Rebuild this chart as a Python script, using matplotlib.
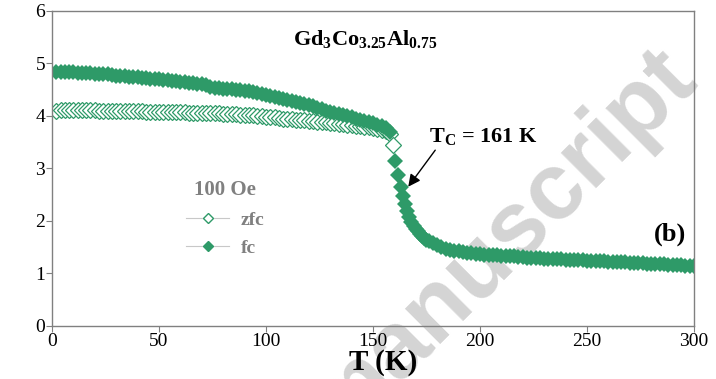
"""M(T) zfc / fc curves for Gd3Co3.25Al0.75 at 100 Oe."""

import matplotlib
matplotlib.use("Agg")
import matplotlib.pyplot as plt
import numpy as np
from matplotlib.lines import Line2D

plt.rcParams["font.family"] = ["Liberation Serif", "DejaVu Serif"]
plt.rcParams["mathtext.fontset"] = "custom"
plt.rcParams["mathtext.rm"] = "Liberation Serif"
plt.rcParams["mathtext.bf"] = "Liberation Serif:bold"

GREEN = "#2e9a68"
GRAY = "#808080"

# low temperature branch (both curves), every 2 K
t_low = np.arange(2, 160, 2)
fc_low = [
    4.84, 4.84, 4.84, 4.83, 4.83, 4.82, 4.82, 4.81, 4.81, 4.80,
    4.80, 4.79, 4.79, 4.78, 4.77, 4.77, 4.76, 4.75, 4.75, 4.74,
    4.73, 4.72, 4.71, 4.70, 4.70, 4.69, 4.68, 4.67, 4.66, 4.65,
    4.64, 4.63, 4.62, 4.61, 4.60, 4.58, 4.56, 4.54, 4.53, 4.52,
    4.52, 4.51, 4.50, 4.49, 4.48, 4.47, 4.45, 4.44, 4.42, 4.40,
    4.38, 4.36, 4.34, 4.32, 4.30, 4.28, 4.26, 4.24, 4.22, 4.20,
    4.18, 4.15, 4.13, 4.10, 4.08, 4.06, 4.04, 4.02, 3.99, 3.97,
    3.95, 3.93, 3.91, 3.88, 3.86, 3.83, 3.80, 3.76, 3.70,
]
zfc_low = [
    4.10, 4.11, 4.11, 4.11, 4.11, 4.11, 4.11, 4.11, 4.11, 4.11,
    4.10, 4.10, 4.10, 4.10, 4.10, 4.10, 4.09, 4.09, 4.09, 4.09,
    4.09, 4.08, 4.08, 4.08, 4.08, 4.08, 4.07, 4.07, 4.07, 4.07,
    4.07, 4.06, 4.06, 4.06, 4.06, 4.05, 4.05, 4.05, 4.05, 4.04,
    4.04, 4.03, 4.03, 4.02, 4.02, 4.01, 4.01, 4.00, 3.99, 3.98,
    3.97, 3.97, 3.96, 3.95, 3.95, 3.94, 3.93, 3.92, 3.92, 3.91,
    3.90, 3.89, 3.88, 3.88, 3.87, 3.86, 3.85, 3.84, 3.83, 3.82,
    3.81, 3.80, 3.79, 3.78, 3.76, 3.75, 3.73, 3.71, 3.66,
]
t_zfc_step = [159.5]
zfc_step = [3.45]

# transition and paramagnetic tail (curves coincide)
t_high = [160.5, 161.5, 163, 164, 165, 166, 167, 168, 169, 170, 171, 172,
          173, 174, 175, 176, 178, 180, 182, 184, 186, 188, 190, 192, 194,
          196, 198, 200] + list(range(202, 302, 2))
fc_high = [
    3.14, 2.87, 2.65, 2.47, 2.32, 2.18, 2.07, 1.98, 1.91, 1.85, 1.80, 1.75,
    1.71, 1.67, 1.64, 1.61, 1.57, 1.53, 1.50, 1.47, 1.45, 1.43, 1.42, 1.40,
    1.39, 1.38, 1.37, 1.36,
    1.35, 1.35, 1.34, 1.34, 1.33, 1.33, 1.32, 1.32, 1.31, 1.31,
    1.30, 1.30, 1.29, 1.29, 1.28, 1.28, 1.28, 1.27, 1.27, 1.26,
    1.26, 1.26, 1.25, 1.25, 1.24, 1.24, 1.24, 1.23, 1.23, 1.22,
    1.22, 1.21, 1.21, 1.21, 1.20, 1.20, 1.19, 1.19, 1.18, 1.18,
    1.18, 1.17, 1.17, 1.16, 1.16, 1.15, 1.15, 1.14, 1.14, 1.13,
]

x_ticks = [0, 50, 100, 150, 200, 250, 300]
y_ticks = [0, 1, 2, 3, 4, 5, 6]

fig = plt.figure(figsize=(7.16, 3.79), dpi=100)
ax = fig.add_axes([0.0726, 0.1406, 0.8966, 0.8304])
ax.patch.set_alpha(0)

# watermark behind the axes
fig.text(0.70, 0.36, "manuscript", family="Liberation Sans", weight="bold",
         fontsize=68, color="#d4d4d4", rotation=45, ha="center", va="center",
         zorder=-1)

mk = dict(marker="D", markersize=8, linestyle="none")
zfc_t = np.concatenate([t_low, t_zfc_step])
zfc_m = np.concatenate([zfc_low, zfc_step])
ax.plot(zfc_t, zfc_m, markerfacecolor="white", markeredgecolor=GREEN,
        markeredgewidth=0.9, **mk)
fc_t = np.concatenate([t_low, t_high])
fc_m = np.concatenate([fc_low, fc_high])
ax.plot(fc_t, fc_m, color=GREEN, markeredgewidth=0, **mk)

ax.set_xlim(0, 300)
ax.set_ylim(0, 6)
ax.set_xticks(x_ticks)
ax.set_yticks(y_ticks)
ax.tick_params(labelsize=14, color=GRAY, direction="out", length=4, width=0.8)
ax.tick_params(axis="x", pad=1)
ax.tick_params(axis="y", pad=1)
for sp in ax.spines.values():
    sp.set_color(GRAY)
    sp.set_linewidth(1.0)

fig.text(0.535, 0.043, "T (K)", fontsize=21, weight="bold", ha="center",
         va="center")

ax.text(0.4875, 0.91, r"$\mathbf{Gd_3Co_{3.25}Al_{0.75}}$", transform=ax.transAxes,
        fontsize=16, ha="center", va="center")
ax.annotate(r"$\mathbf{T_C}$" + " = 161 K", xy=(166.5, 2.65), xytext=(176, 3.6),
            fontsize=16, weight="bold", ha="left", va="center",
            arrowprops=dict(arrowstyle="-|>", color="black", lw=1.0,
                            mutation_scale=18, shrinkA=0, shrinkB=0,
                            relpos=(0.08, 0.0)))
ax.text(0.988, 0.29, "(b)", transform=ax.transAxes, fontsize=19,
        weight="bold", ha="right", va="center")

handles = [
    Line2D([], [], color="#c8c8c8", lw=0.8, marker="D", markersize=5.5,
           markerfacecolor="white", markeredgecolor=GREEN),
    Line2D([], [], color="#c8c8c8", lw=0.8, marker="D", markersize=5.5,
           markerfacecolor=GREEN, markeredgecolor=GREEN),
]
leg = ax.legend(handles, ["zfc", "fc"], title="100 Oe", frameon=False,
                loc="center", bbox_to_anchor=(0.27, 0.34), handlelength=2.2,
                handletextpad=0.6, labelspacing=0.55,
                prop=dict(size=14, weight="bold"), labelcolor=GRAY,
                title_fontproperties=dict(size=15, weight="bold"))
leg.get_title().set_color(GRAY)

fig.savefig("out.png", dpi=100)
